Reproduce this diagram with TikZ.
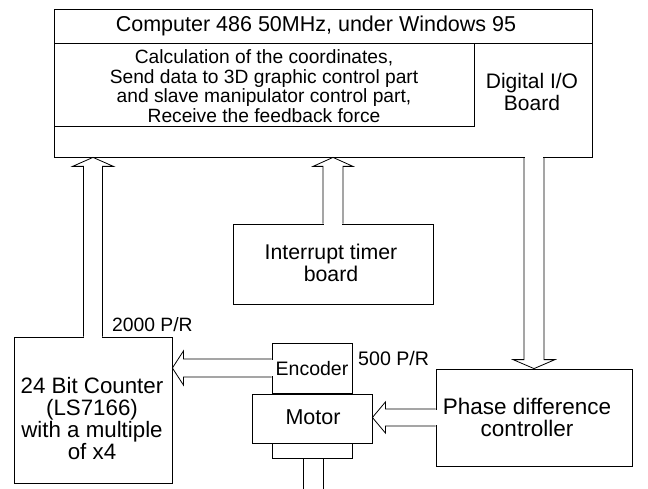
\documentclass[tikz,border=0pt]{standalone}
\usepackage{fontspec}
\setmainfont{Liberation Sans}
\usetikzlibrary{calc}
\tikzset{
  box/.style={draw, line width=0.8bp, inner sep=0pt, align=center},
  txt/.style={inner sep=0pt, align=center},
  arrline/.style={draw, line width=0.8bp, line join=miter},
}
% vertical hollow block arrow: source anchor, target anchor, shaft half width, head half width, signed head length
\newcommand\VArr[5]{%
  \fill[white] let \p1=(#1) in ({\x1-#3+0.6bp},{\y1-1.2bp}) rectangle ({\x1+#3-0.6bp},{\y1+1.2bp});
  \draw[arrline] let \p1=(#1), \p2=(#2) in
    ({\x1-#3},\y1) -- ({\x1-#3},{\y2-(#5)}) -- ({\x1-#4},{\y2-(#5)}) -- (\x1,\y2)
    -- ({\x1+#4},{\y2-(#5)}) -- ({\x1+#3},{\y2-(#5)}) -- ({\x1+#3},\y1);
}
% leftward hollow block arrow
\newcommand\HArr[5]{%
  \fill[white] let \p1=(#1) in ({\x1-1.2bp},{\y1-#3+0.6bp}) rectangle ({\x1+1.2bp},{\y1+#3-0.6bp});
  \draw[arrline] let \p1=(#1), \p2=(#2) in
    (\x1,{\y1-#3}) -- ({\x2+#5},{\y1-#3}) -- ({\x2+#5},{\y1-#4}) -- (\x2,\y1)
    -- ({\x2+#5},{\y1+#4}) -- ({\x2+#5},{\y1+#3}) -- (\x1,{\y1+#3});
}
\begin{document}
\begin{tikzpicture}[x=1bp,y=-1bp]
\useasboundingbox (0,0) rectangle (648,489);
\fill[white] (0,0) rectangle (648,489);

% computer
\node[box, minimum width=538bp, minimum height=148bp] (comp) at (323,83) {};
\node[box, minimum width=538bp, minimum height=34bp] (titlebar) at (323,26) {};
\node[txt, font=\fontsize{21.5bp}{23bp}\selectfont] (title) at (316,26) {Computer 486 50MHz, under Windows 95};
\node[box, minimum width=420bp, minimum height=83bp] (calcbox) at (264,84.5) {};
\node[txt, font=\fontsize{19.2bp}{19.6bp}\selectfont] (calctext) at (264,86) {Calculation of the coordinates,\\Send data to 3D graphic control part\\and slave manipulator control part,\\Receive the feedback force};
\node[txt, font=\fontsize{21bp}{21.5bp}\selectfont] (dio) at (532,92) {Digital I/O\\Board};

% interrupt timer
\node[box, minimum width=200bp, minimum height=80bp] (intr) at (333,264) {};
\node[txt, font=\fontsize{21.3bp}{22bp}\selectfont] (intrtext) at (331,263) {Interrupt timer\\board};

% counter
\node[box, minimum width=158bp, minimum height=146bp] (counter) at (93,410) {};
\node[txt, font=\fontsize{22.3bp}{22.3bp}\selectfont] (countertext) at (92,418.5) {24 Bit Counter\\(LS7166)\\with a multiple\\of x4};

% encoder, motor
\node[box, minimum width=80bp, minimum height=50bp] (enc) at (312,368) {};
\node[txt, font=\fontsize{19.5bp}{20bp}\selectfont] (enctext) at (312,369) {Encoder};
\node[box, minimum width=120bp, minimum height=49bp] (motor) at (312,418.5) {};
\node[txt, font=\fontsize{21.5bp}{22bp}\selectfont] (motortext) at (313,417) {Motor};
\node[box, minimum width=80bp, minimum height=15bp] (shaftbox) at (312,450.5) {};
\draw[line width=0.8bp] ([xshift=-9bp]shaftbox.south) -- ++(0,31);
\draw[line width=0.8bp] ([xshift=11bp]shaftbox.south) -- ++(0,31);

% phase difference controller
\node[box, minimum width=196bp, minimum height=97bp] (phase) at (534,417.5) {};
\node[txt, font=\fontsize{22.5bp}{22bp}\selectfont] (phasetext) at (527,417) {Phase difference\\controller};

% labels
\node[txt, anchor=west, font=\fontsize{19.3bp}{20bp}\selectfont] (ppr2000) at (112,325) {2000 P/R};
\node[txt, anchor=west, font=\fontsize{19.6bp}{20bp}\selectfont] (ppr500) at (358,358) {500 P/R};

% arrows
\VArr{counter.north}{comp.south}{9.5bp}{20.5bp}{9bp}
\VArr{intr.north}{comp.south}{10bp}{20bp}{9bp}
\VArr{comp.south -| phase.north}{phase.north}{10bp}{21bp}{-9bp}
\HArr{enc.west}{counter.east}{9bp}{17bp}{11bp}
\HArr{phase.west}{motor.east}{8.5bp}{15.5bp}{13bp}
\end{tikzpicture}
\end{document}
